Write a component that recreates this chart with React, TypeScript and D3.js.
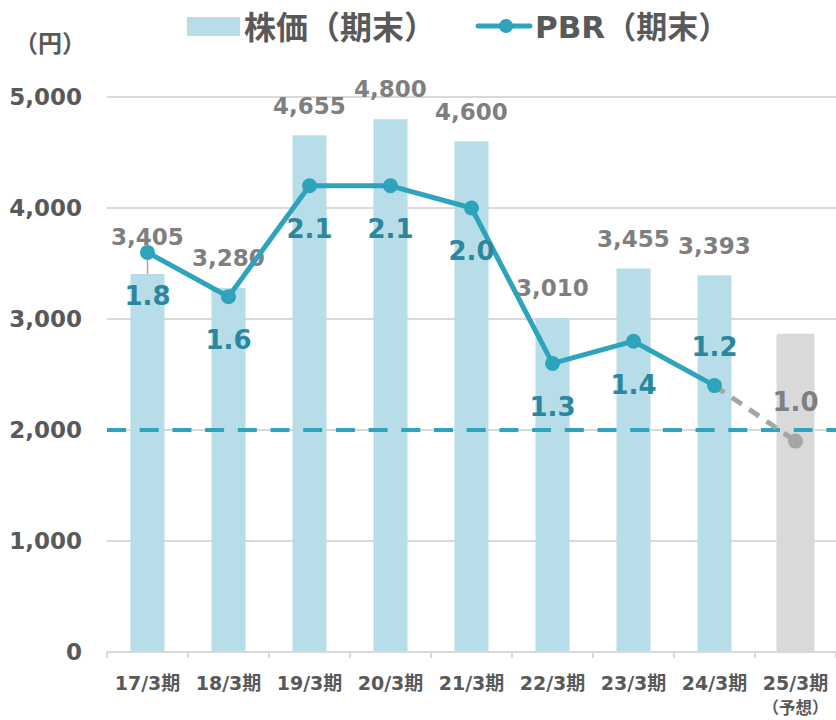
import React from "react";
import * as d3 from "d3";

const categories = ["17/3期", "18/3期", "19/3期", "20/3期", "21/3期", "22/3期", "23/3期", "24/3期", "25/3期"];
const subLabels = ["", "", "", "", "", "", "", "", "（予想）"];
const stockPrice = [3405, 3280, 4655, 4800, 4600, 3010, 3455, 3393, 2885];
const isForecast = [false, false, false, false, false, false, false, false, true];
const pbr = [1.8, 1.6, 2.1, 2.1, 2.0, 1.3, 1.4, 1.2, 0.95];
const pbrLabelSide = ["below", "below", "below", "below", "below", "below", "below", "above", "above"];
const yTicks = [0, 1000, 2000, 3000, 4000, 5000];
const referenceLine = 2000;

const W = 836;
const H = 720;
const left = 107;
const right = 836;
const top = 97;
const bottom = 652;

const NUM_FONT = "'DejaVu Sans', 'Noto Sans CJK JP', sans-serif";
const JP_FONT = "'Noto Sans CJK JP', sans-serif";
const TEAL = "#2ea3bc";
const TEAL_TEXT = "#2a879d";
const BAR = "#b7dde8";
const GRAY_BAR = "#d9d9d9";
const GRID = "#d9d9d9";
const AXIS_TEXT = "#595959";
const LABEL_GRAY = "#7f7f7f";
const FORECAST_LINE = "#a6a6a6";

export default function App() {
  const x = d3.scaleBand<string>().domain(categories).range([left, right]).paddingInner(0.58).paddingOuter(0.29);
  const y = d3.scaleLinear().domain([0, 5000]).range([bottom, top]);
  const y2 = d3.scaleLinear().domain([0, 2.5]).range([bottom, top]);
  const step = x.step();
  const cx = (c: string) => (x(c) as number) + x.bandwidth() / 2;
  const fmt = d3.format(",");

  const pts = pbr.map((v, i) => [cx(categories[i]), y2(v)] as [number, number]);
  const line = d3.line();
  const actualPts = pts.filter((_, i) => !isForecast[i]);
  const lastActual = actualPts.length - 1;
  const forecastPts = [actualPts[lastActual], ...pts.filter((_, i) => isForecast[i])];

  return (
    <svg width={W} height={H} style={{ position: "absolute", left: 0, top: 0, background: "#fff" }}>
      {/* gridlines */}
      {yTicks.filter((t) => t > 0).map((t) => (
        <line key={t} x1={left} x2={right} y1={y(t)} y2={y(t)} stroke={GRID} strokeWidth={2} />
      ))}
      {/* y labels */}
      {yTicks.map((t) => (
        <text key={t} x={82} y={y(t)} dy="0.36em" textAnchor="end" fontFamily={NUM_FONT} fontWeight="bold" fontSize={23} fill={AXIS_TEXT}>
          {fmt(t)}
        </text>
      ))}
      <text x={50} y={43} dy="0.36em" textAnchor="middle" fontFamily={JP_FONT} fontWeight="bold" fontSize={24} fill={AXIS_TEXT}>
        （円）
      </text>
      {/* bars */}
      {stockPrice.map((v, i) => (
        <rect
          key={i}
          x={(x(categories[i]) as number) + (isForecast[i] ? -2 : 0)}
          y={y(v) + (isForecast[i] ? 2 : 0)}
          width={x.bandwidth() + (isForecast[i] ? 4 : 0)}
          height={bottom - y(v) - (isForecast[i] ? 2 : 0)}
          fill={isForecast[i] ? GRAY_BAR : BAR}
          rx={isForecast[i] ? 2 : 0}
        />
      ))}
      {/* reference dashed line */}
      <line x1={left} x2={right} y1={y(referenceLine)} y2={y(referenceLine)} stroke={TEAL} strokeWidth={4} strokeDasharray="19 13.7" />
      {/* x axis */}
      <line x1={left} x2={right} y1={bottom} y2={bottom} stroke={GRID} strokeWidth={2} />
      {d3.range(categories.length + 1).map((i) => (
        <line key={i} x1={left + i * step} x2={left + i * step} y1={bottom} y2={bottom + 6} stroke={GRID} strokeWidth={2} />
      ))}
      {categories.map((c, i) => (
        <g key={c}>
          <text x={cx(c)} y={683} dy="0.36em" textAnchor="middle" fontFamily={NUM_FONT} fontWeight="bold" fontSize={19} fill={AXIS_TEXT}>
            {c}
          </text>
          {subLabels[i] && (
            <text x={cx(c)} y={708} dy="0.36em" textAnchor="middle" fontFamily={JP_FONT} fontWeight="bold" fontSize={16.5} fill={AXIS_TEXT}>
              {subLabels[i]}
            </text>
          )}
        </g>
      ))}
      {/* leader line for first label */}
      <line x1={cx(categories[0])} x2={cx(categories[0])} y1={y(stockPrice[0]) - 20} y2={y(stockPrice[0])} stroke="#a6a6a6" strokeWidth={1.5} />
      {/* bar labels */}
      {stockPrice.map((v, i) =>
        isForecast[i] ? null : (
          <text key={i} x={cx(categories[i])} y={y(v) - 30 - (i === 0 ? 7 : 0)} dy="0.36em" textAnchor="middle" fontFamily={NUM_FONT} fontWeight="bold" fontSize={23} fill={LABEL_GRAY}>
            {fmt(v)}
          </text>
        )
      )}
      {/* PBR line */}
      <path d={line(forecastPts) || ""} fill="none" stroke={FORECAST_LINE} strokeWidth={5} strokeDasharray="12 9" />
      <path d={line(actualPts) || ""} fill="none" stroke={TEAL} strokeWidth={5} strokeLinejoin="round" />
      {pts.map((p, i) => (
        <circle key={i} cx={p[0]} cy={p[1]} r={7.5} fill={isForecast[i] ? FORECAST_LINE : TEAL} />
      ))}
      {pbr.map((v, i) => (
        <text
          key={i}
          x={pts[i][0]}
          y={pts[i][1] + (pbrLabelSide[i] === "below" ? 43 : -39)}
          dy="0.36em"
          textAnchor="middle"
          fontFamily={NUM_FONT}
          fontWeight="bold"
          fontSize={26}
          fill={isForecast[i] ? LABEL_GRAY : TEAL_TEXT}
        >
          {(Math.round(v * 10) / 10).toFixed(1)}
        </text>
      ))}
      {/* legend */}
      <rect x={187} y={17} width={53} height={19} fill={BAR} />
      <text x={244} y={27} dy="0.36em" fontFamily={JP_FONT} fontWeight="bold" fontSize={32} fill={AXIS_TEXT}>
        株価（期末）
      </text>
      <line x1={478} x2={530} y1={26} y2={26} stroke={TEAL} strokeWidth={5} strokeLinecap="round" />
      <circle cx={506} cy={26} r={7} fill={TEAL} />
      <text x={535} y={27} dy="0.36em" fontFamily={NUM_FONT} fontWeight="bold" fontSize={31} fill={AXIS_TEXT}>
        PBR<tspan fontFamily={JP_FONT}>（期末）</tspan>
      </text>
    </svg>
  );
}
